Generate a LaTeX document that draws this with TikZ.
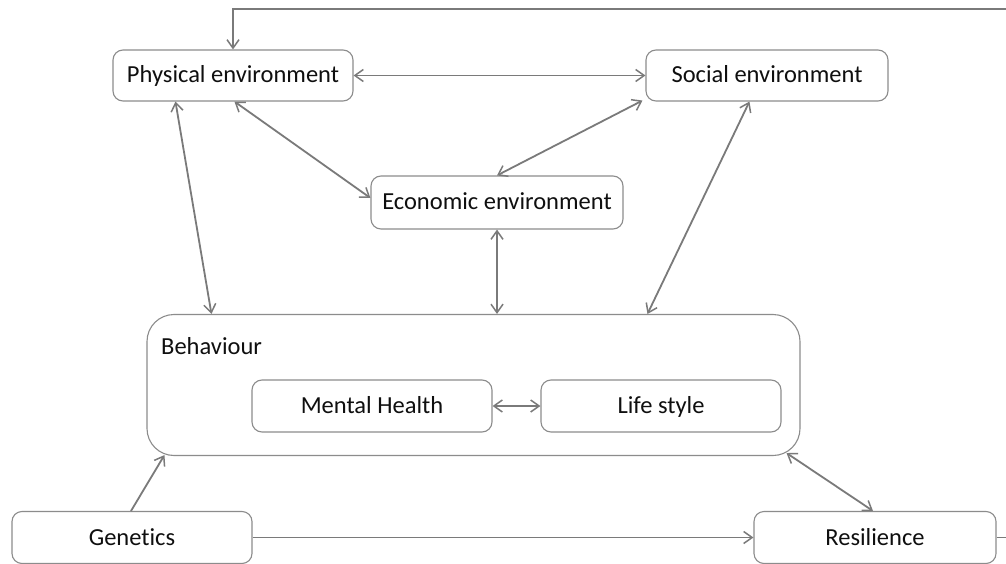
\documentclass[tikz,border=0pt]{standalone}
\usepackage{fontspec}
\setmainfont{Carlito}[Ligatures=NoCommon]
\usetikzlibrary{arrows.meta}
\definecolor{boxline}{RGB}{140,140,140}
\definecolor{arrowline}{RGB}{122,122,122}
\definecolor{txt}{RGB}{15,15,15}
\begin{document}
\begin{tikzpicture}[x=1pt,y=-1pt,
  font=\fontsize{24.5}{28}\selectfont, text=txt,
  box/.style={draw=boxline, line width=1.1pt, rounded corners=10pt,
    inner sep=0pt, align=center, text height=18.5pt, text depth=3.5pt},
  link/.style={draw=arrowline, line width=1.8pt, {Straight Barb[length=8.5pt,width=12pt,line width=1.5pt]}-{Straight Barb[length=8.5pt,width=12pt,line width=1.5pt]}},
  oneway/.style={draw=arrowline, line width=1.8pt, -{Straight Barb[length=8.5pt,width=12pt,line width=1.5pt]}}]
\clip (0,0) rectangle (1006,564);
\fill[white] (0,0) rectangle (1006,564);

% environments
\node[box, minimum width=240pt, minimum height=51pt] (phys) at (233,75.5) {Physical environment};
\node[box, minimum width=242pt, minimum height=51pt] (social) at (767,75.5) {Social environment};
\node[box, minimum width=252pt, minimum height=53pt] (econ) at (497,202.5) {Economic environment};

% behaviour group
\node[box, rounded corners=27pt, minimum width=653pt, minimum height=141pt] (behav) at (473.5,385) {};
\node[anchor=base west, inner sep=0pt] (behavlbl) at (161,354) {Behaviour};
\node[box, minimum width=240pt, minimum height=52pt] (mental) at (372,406) {Mental Health};
\node[box, minimum width=240pt, minimum height=52pt] (life) at (661,406) {Life style};

% bottom row
\node[box, minimum width=240pt, minimum height=52pt] (gen) at (132,537.5) {Genetics};
\node[box, minimum width=242pt, minimum height=52pt] (resil) at (875,537.5) {Resilience};

% feedback loop corner
\coordinate (fbR) at (1016,9);

% connectors
\draw[link] (phys.east) -- (social.west);
\draw[link] ([xshift=122pt]phys.south west) -- ([yshift=4.5pt]econ.west);
\draw[link] ([xshift=-3pt,yshift=1pt]social.south west) -- (econ.north);
\draw[link] ([xshift=63pt]phys.south west) -- ([xshift=65pt]behav.north west);
\draw[link] ([xshift=104pt]social.south west) -- ([xshift=501pt]behav.north west);
\draw[link] (econ.south) -- (econ.south |- behav.north);
\draw[link] (mental.east) -- (life.west);
\draw[oneway] ([xshift=-1pt]gen.north) -- ([xshift=18pt,yshift=1pt]behav.south west);
\draw[oneway] (gen.east) -- (resil.west);
\draw[link] ([xshift=-14pt,yshift=3pt]behav.south east) -- ([xshift=-2pt]resil.north);
\draw[oneway] (resil.east) -| (fbR) -| (phys.north);
\end{tikzpicture}
\end{document}
